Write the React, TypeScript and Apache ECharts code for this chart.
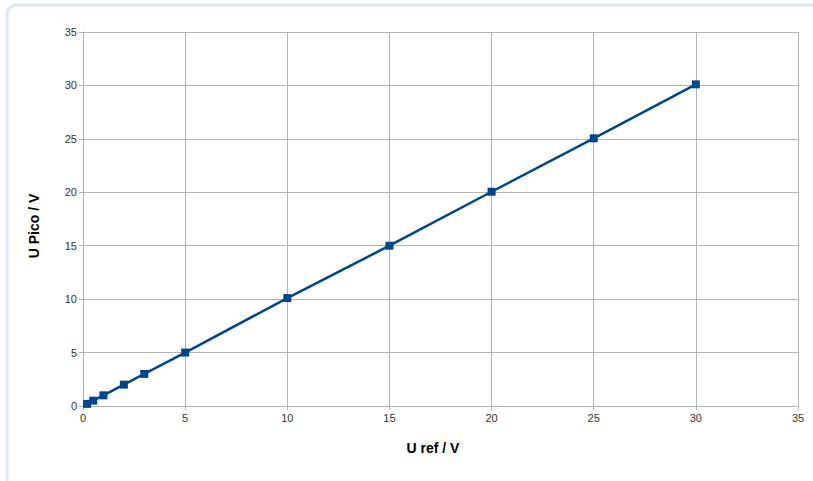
import React, { useEffect, useRef } from "react";
import * as echarts from "echarts";

const uRef = [0.2, 0.5, 1, 2, 3, 5, 10, 15, 20, 25, 30];
const uPico = [0.2, 0.5, 1, 2, 3, 5, 10.1, 15, 20.05, 25.05, 30.1];
const xName = "U ref / V";
const yName = "U Pico / V";

export default function App() {
  const ref = useRef<HTMLDivElement>(null);
  useEffect(() => {
    if (!ref.current) return;
    const chart = echarts.init(ref.current, undefined, { renderer: "svg" });
    const labelStyle = { color: "#333333", fontSize: 11, fontFamily: "Liberation Sans" };
    chart.setOption({
      animation: false,
      backgroundColor: "#ffffff",
      grid: { left: 83, right: 15, top: 32, bottom: 75 },
      graphic: [
        {
          type: "rect",
          shape: { x: 7, y: 5, width: 830, height: 500, r: 10 },
          style: { fill: "none", stroke: "#dde5f7", lineWidth: 3 },
          z: -10,
        },
        {
          type: "text",
          x: 433,
          y: 448,
          style: {
            text: xName,
            fontSize: 14,
            fontWeight: "bold",
            fontFamily: "Liberation Sans",
            fill: "#000000",
            align: "center",
            verticalAlign: "middle",
          },
        },
        {
          type: "text",
          x: 34,
          y: 226,
          rotation: Math.PI / 2,
          style: {
            text: yName,
            fontSize: 14,
            fontWeight: "bold",
            fontFamily: "Liberation Sans",
            fill: "#000000",
            align: "center",
            verticalAlign: "middle",
          },
        },
      ],
      xAxis: {
        type: "value",
        min: 0,
        max: 35,
        interval: 5,
        axisLine: { show: true, lineStyle: { color: "#b3b3b3", width: 1 } },
        axisTick: { show: true, length: 4, lineStyle: { color: "#b3b3b3" } },
        axisLabel: { ...labelStyle, margin: 6 },
        splitLine: { show: true, lineStyle: { color: "#b3b3b3", width: 1 } },
      },
      yAxis: {
        type: "value",
        min: 0,
        max: 35,
        interval: 5,
        axisLine: { show: true, lineStyle: { color: "#b3b3b3", width: 1 } },
        axisTick: { show: true, length: 4, lineStyle: { color: "#b3b3b3" } },
        axisLabel: { ...labelStyle, margin: 6 },
        splitLine: { show: true, lineStyle: { color: "#b3b3b3", width: 1 } },
      },
      series: [
        {
          type: "line",
          data: uRef.map((x, i) => [x, uPico[i]]),
          symbol: "rect",
          symbolSize: 8,
          lineStyle: { color: "#004586", width: 2.5 },
          itemStyle: { color: "#004586" },
        },
      ],
    });
    return () => chart.dispose();
  }, []);
  return (
    <div
      ref={ref}
      style={{ position: "fixed", left: 0, top: 0, width: 813, height: 481 }}
    />
  );
}
